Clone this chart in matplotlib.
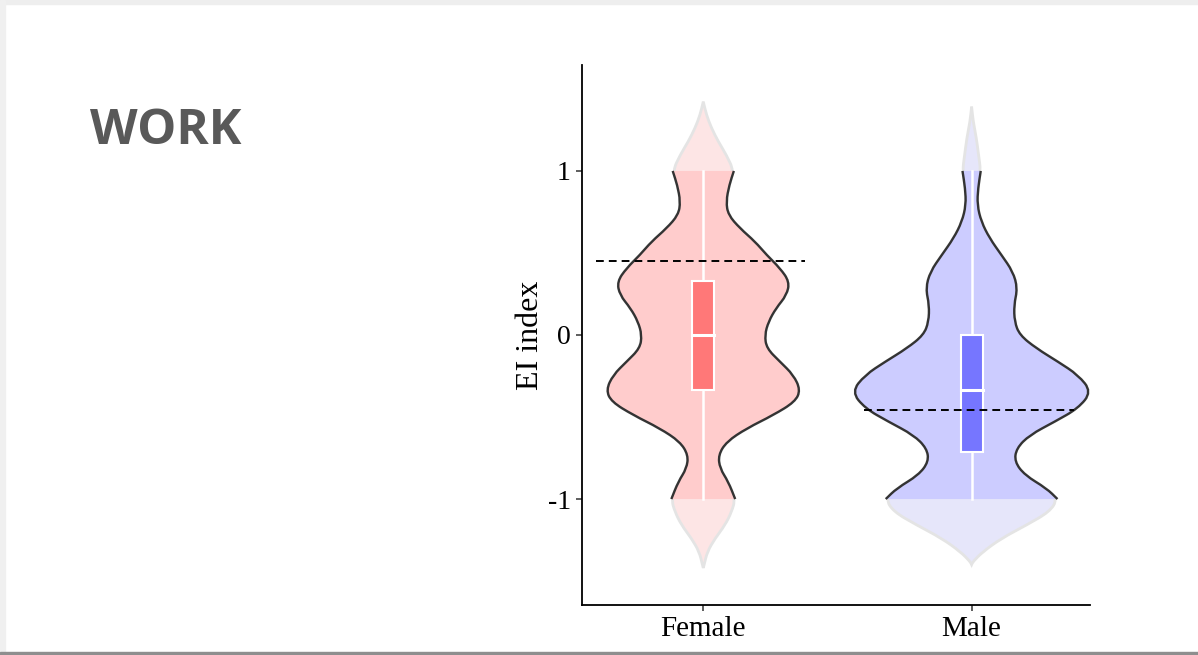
import matplotlib.pyplot as plt
from matplotlib.patches import Rectangle, PathPatch
from matplotlib.path import Path
import numpy as np

groups = ['Female', 'Male']

# violin outlines: y value and half width (x units)
female_y = [1.423, 1.341, 1.260, 1.179, 1.098, 1.0, 0.915, 0.813, 0.732, 0.650, 0.569, 0.488,
            0.407, 0.325, 0.244, 0.163, 0.081, 0.0, -0.081, -0.163, -0.244, -0.335, -0.407,
            -0.488, -0.569, -0.650, -0.732, -0.813, -0.894, -1.0, -1.077, -1.159, -1.240,
            -1.321, -1.402, -1.42]
female_w = [0, .012, .031, .056, .086, .114, .097, .085, .093, .137, .193, .236,
            .286, .321, .311, .271, .243, .229, .236, .286, .336, .362, .342,
            .261, .162, .087, .056, .062, .093, .119, .106, .081, .044,
            .015, .003, 0]

male_y = [1.392, 1.301, 1.199, 1.098, 1.0, 0.894, 0.793, 0.691, 0.590, 0.488, 0.386, 0.285,
          0.183, 0.081, 0.0, -0.081, -0.163, -0.244, -0.346, -0.447, -0.528, -0.610, -0.691,
          -0.772, -0.854, -0.935, -1.0, -1.077, -1.159, -1.240, -1.321, -1.382, -1.40]
male_w = [0, .006, .018, .026, .034, .024, .021, .036, .067, .111, .154, .171,
          .158, .160, .179, .241, .322, .397, .447, .397, .310, .216, .167,
          .160, .198, .279, .320, .291, .204, .111, .042, .005, 0]

# box stats: q1, median, q3, whisker low, whisker high
box_stats = [(-0.335, 0.0, 0.331, -1.0, 1.0),
             (-0.716, -0.335, 0.0, -1.0, 1.0)]
# dashed reference lines
ref_lines = [0.453, -0.457]

dark_fill = ['#FFCCCC', '#CCCCFF']
light_fill = ['#FDE5E5', '#E6E6FA']
box_fill = ['#FF7878', '#7676FF']


def smooth(xs, ys):
    # quadratic bezier through the midpoints, read points used as control points
    pts = list(zip(xs, ys))
    verts = [pts[0]]
    codes = [Path.MOVETO]
    if len(pts) > 2:
        verts.append(((pts[0][0] + pts[1][0]) / 2, (pts[0][1] + pts[1][1]) / 2))
        codes.append(Path.LINETO)
        for k in range(1, len(pts) - 1):
            nx = (pts[k][0] + pts[k + 1][0]) / 2
            ny = (pts[k][1] + pts[k + 1][1]) / 2
            verts += [pts[k], (nx, ny)]
            codes += [Path.CURVE3, Path.CURVE3]
    verts.append(pts[-1])
    codes.append(Path.LINETO)
    return verts, codes


def outline(xc, y, w):
    v1, c1 = smooth(xc + w, y)
    v2, c2 = smooth(xc - w[::-1], y[::-1])
    c2[0] = Path.LINETO
    return Path(v1 + v2 + [v1[0]], c1 + c2 + [Path.CLOSEPOLY])


fig = plt.figure(figsize=(11.98, 6.55), dpi=100)

# slide frame
fig.patches.append(Rectangle((0, 0.994), 1, 0.006, transform=fig.transFigure, color='#EEEEEE', zorder=0))
fig.patches.append(Rectangle((0, 0), 0.004, 1, transform=fig.transFigure, color='#F0F0F0', zorder=0))
fig.patches.append(Rectangle((0, 0), 1, 0.0045, transform=fig.transFigure, color='#8E8E8E', zorder=0))

fig.text(90/1198, 1 - 144/655, 'WORK', fontsize=35.5, fontweight='bold', family='Open Sans',
         color='#595959', va='baseline', ha='left')

ax = fig.add_axes([0.4858, 0.0763, 0.424, 0.8245])

profiles = [(female_y, female_w), (male_y, male_w)]
for i, (yv, wv) in enumerate(profiles):
    xc = i + 1
    y = np.array(yv)
    w = np.array(wv)
    ax.add_patch(PathPatch(outline(xc, y, w), facecolor=light_fill[i], edgecolor='#E4E4E4',
                           lw=2, zorder=1))
    m = (y >= -1) & (y <= 1)
    ax.add_patch(PathPatch(outline(xc, y[m], w[m]), facecolor=dark_fill[i], edgecolor='none',
                           zorder=2))
    for sgn in (1, -1):
        v, c = smooth(xc + sgn * w[m], y[m])
        ax.add_patch(PathPatch(Path(v, c), facecolor='none', edgecolor='#333333', lw=1.7,
                               zorder=3, capstyle='butt'))

    q1, med, q3, lo, hi = box_stats[i]
    ax.plot([xc, xc], [lo, q1], color='white', lw=1.8, zorder=4)
    ax.plot([xc, xc], [q3, hi], color='white', lw=1.8, zorder=4)
    ax.add_patch(Rectangle((xc - 0.041, q1), 0.082, q3 - q1, facecolor=box_fill[i],
                           edgecolor='white', lw=1.5, zorder=5))
    ax.plot([xc - 0.041, xc + 0.041], [med, med], color='white', lw=2.2, zorder=6)

    ax.plot([xc - 0.40, xc + 0.38], [ref_lines[i], ref_lines[i]], color='black', lw=1.4,
            linestyle=(0, (4, 2.6)), zorder=7)

ax.set_xlim(0.548, 2.441)
ax.set_ylim(-1.646, 1.646)
ax.set_xticks([1, 2])
ax.set_xticklabels(groups)
ax.set_yticks([-1, 0, 1])
ax.set_yticklabels(['-1', '0', '1'])
for s in ['top', 'right']:
    ax.spines[s].set_visible(False)
for s in ['left', 'bottom']:
    ax.spines[s].set_linewidth(1.3)
ax.tick_params(direction='out', length=4, width=1.1, colors='#333333', labelcolor='black', pad=4)
ax.tick_params(axis='x', labelsize=21)
ax.tick_params(axis='y', labelsize=20)
for lab in ax.get_xticklabels() + ax.get_yticklabels():
    lab.set_family('Liberation Serif')
ax.set_ylabel('EI index', fontsize=23, family='Liberation Serif', labelpad=2)

fig.savefig('out.png', dpi=100)
